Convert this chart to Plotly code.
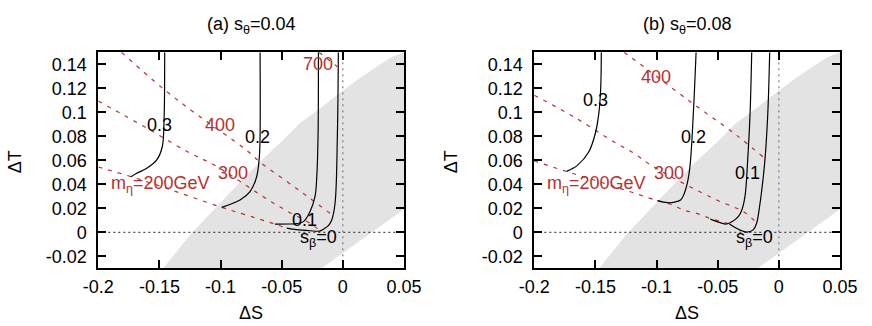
import plotly.graph_objects as go

# axis ticks
x_ticks = [-0.2, -0.15, -0.1, -0.05, 0, 0.05]
x_ticktext = ["-0.2", "-0.15", "-0.1", "-0.05", "0", "0.05"]
y_ticks = [-0.02, 0, 0.02, 0.04, 0.06, 0.08, 0.1, 0.12, 0.14]
y_ticktext = ["-0.02", "0", "0.02", "0.04", "0.06", "0.08", "0.1", "0.12", "0.14"]

# allowed S-T region (gray), same in both panels
band_x = [-0.147, -0.135, -0.124, -0.11, -0.095, -0.08, -0.065, -0.05, -0.035,
          -0.02, -0.005, 0.01, 0.025, 0.04, 0.05, 0.05, 0.0164, -0.0173]
band_y = [-0.03, -0.0152, -0.001, 0.014, 0.0305, 0.0463, 0.0614, 0.0757, 0.091,
          0.1021, 0.1142, 0.1256, 0.1362, 0.1461, 0.15, 0.0192, -0.0054, -0.03]

# ---- (a) s_theta = 0.04 ----
# s_beta contours (black)
a_sb03_x = [-0.1457, -0.1458, -0.1462, -0.1477, -0.1522, -0.1604, -0.1689, -0.1732]
a_sb03_y = [0.15, 0.12, 0.095, 0.0713, 0.0603, 0.0533, 0.0490, 0.0463]
a_sb02_x = [-0.0677, -0.0677, -0.0683, -0.0705, -0.0759, -0.0841, -0.0991]
a_sb02_y = [0.15, 0.08, 0.063, 0.0463, 0.0339, 0.0269, 0.0208]
a_sb01_x = [-0.0200, -0.0203, -0.0214, -0.0228, -0.0269, -0.0323, -0.0380, -0.0432, -0.0555]
a_sb01_y = [0.15, 0.08, 0.045, 0.0297, 0.0172, 0.0089, 0.0072, 0.0069, 0.0068]
a_sb00_x = [-0.0037, -0.0045, -0.0064, -0.0091, -0.0119, -0.0160, -0.0190, -0.0269, -0.0380, -0.0459]
a_sb00_y = [0.15, 0.08, 0.024, 0.0103, 0.0055, 0.0025, 0.0010, 0.0013, 0.0022, 0.0035]
# m_eta contours (red dashed)
a_m200_x = [-0.2, -0.173, -0.1495, -0.0991, -0.0705, -0.0555, -0.0459]
a_m200_y = [0.0544, 0.0463, 0.0385, 0.0208, 0.0117, 0.0068, 0.0035]
a_m300_x = [-0.2, -0.1594, -0.1266, -0.1048, -0.061, -0.0446, -0.0269, -0.0190]
a_m300_y = [0.1094, 0.0863, 0.0669, 0.0558, 0.027, 0.0172, 0.0075, 0.0015]
a_m400_x = [-0.181, -0.1485, -0.1185, -0.0803, -0.0664, -0.0418, -0.0269, -0.0105]
a_m400_y = [0.15, 0.121, 0.0975, 0.0697, 0.0575, 0.0394, 0.0283, 0.0158]
a_m700_x = [-0.0195, -0.0045]
a_m700_y = [0.15, 0.138]

# ---- (b) s_theta = 0.08 ----
b_sb03_x = [-0.1452, -0.1457, -0.1471, -0.1498, -0.1555, -0.1648, -0.1735]
b_sb03_y = [0.15, 0.12, 0.1003, 0.0836, 0.0669, 0.0558, 0.0508]
b_sb02_x = [-0.0677, -0.0699, -0.0726, -0.0749, -0.0775, -0.0803, -0.0860, -0.0912, -0.0994]
b_sb02_y = [0.15, 0.10, 0.0558, 0.0408, 0.032, 0.0269, 0.0250, 0.0247, 0.0264]
b_sb01_x = [-0.0222, -0.0235, -0.0255, -0.0277, -0.0305, -0.0332, -0.0380, -0.0427, -0.0480, -0.0560]
b_sb01_y = [0.15, 0.10, 0.06, 0.030, 0.018, 0.013, 0.009, 0.0069, 0.0080, 0.0110]
b_sb00_x = [-0.0075, -0.0090, -0.0113, -0.0140, -0.0160, -0.0182, -0.0210, -0.0263, -0.0320, -0.0405]
b_sb00_y = [0.15, 0.10, 0.0614, 0.035, 0.020, 0.0075, 0.0020, 0.0002, 0.0020, 0.0069]
b_m200_x = [-0.2, -0.173, -0.1325, -0.0994, -0.0869, -0.0781, -0.0672, -0.0560, -0.0468, -0.0405]
b_m200_y = [0.0594, 0.0505, 0.0375, 0.0264, 0.0228, 0.0186, 0.0158, 0.0115, 0.0089, 0.0069]
b_m300_x = [-0.2, -0.1675, -0.1348, -0.1185, -0.1048, -0.0781, -0.0508, -0.0291, -0.0182]
b_m300_y = [0.1142, 0.0961, 0.0753, 0.0658, 0.0561, 0.0408, 0.0269, 0.0172, 0.0080]
b_m400_x = [-0.1266, -0.1103, -0.0721, -0.0345, -0.0113]
b_m400_y = [0.15, 0.1378, 0.1086, 0.0808, 0.0614]

# contour labels: text, x, y
a_black_labels = [("0.3", -0.1503, 0.0894), ("0.2", -0.0700, 0.0797),
                  ("0.1", -0.0317, 0.0103), ("s<sub>β</sub>=0", -0.0201, -0.0050)]
a_red_labels = [("m<sub>η</sub>=200GeV", -0.1495, 0.0395), ("300", -0.0901, 0.0497),
                ("400", -0.1005, 0.0894), ("700", -0.0200, 0.1400)]
b_black_labels = [("0.3", -0.1503, 0.1103), ("0.2", -0.0700, 0.0797),
                  ("0.1", -0.0255, 0.0497), ("s<sub>β</sub>=0", -0.0201, -0.0050)]
b_red_labels = [("m<sub>η</sub>=200GeV", -0.1495, 0.0395), ("300", -0.0901, 0.0497),
                ("400", -0.1005, 0.1297)]

titles = ["(a) s<sub>θ</sub>=0.04", "(b) s<sub>θ</sub>=0.08"]

RED = "#b8312f"
FONT = "Liberation Sans, Arial, sans-serif"
FS = 18

panels = [
    dict(sb=[(a_sb03_x, a_sb03_y), (a_sb02_x, a_sb02_y), (a_sb01_x, a_sb01_y), (a_sb00_x, a_sb00_y)],
         m=[(a_m200_x, a_m200_y), (a_m300_x, a_m300_y), (a_m400_x, a_m400_y), (a_m700_x, a_m700_y)],
         black=a_black_labels, red=a_red_labels),
    dict(sb=[(b_sb03_x, b_sb03_y), (b_sb02_x, b_sb02_y), (b_sb01_x, b_sb01_y), (b_sb00_x, b_sb00_y)],
         m=[(b_m200_x, b_m200_y), (b_m300_x, b_m300_y), (b_m400_x, b_m400_y)],
         black=b_black_labels, red=b_red_labels),
]

W, H = 872, 326
x_dom_px = [(98.3, 404.0), (534.3, 840.0)]
y_dom = [1 - 268.3 / H, 1 - 52.3 / H]

fig = go.Figure()
annotations = []


def label(text, x, y, xref, yref, color="black", angle=0):
    return dict(text=text, x=x, y=y, xref=xref, yref=yref, showarrow=False,
                xanchor="center", yanchor="middle", textangle=angle,
                font=dict(size=FS, color=color, family=FONT))


for i, p in enumerate(panels):
    xa = "x" if i == 0 else "x2"
    ya = "y" if i == 0 else "y2"

    fig.add_trace(go.Scatter(x=band_x, y=band_y, mode="lines", fill="toself",
                             fillcolor="#e3e3e3", line=dict(width=0),
                             xaxis=xa, yaxis=ya, showlegend=False, hoverinfo="skip"))
    # zero lines
    fig.add_trace(go.Scatter(x=[x_ticks[0], x_ticks[-1]], y=[0, 0], mode="lines",
                             line=dict(color="#222", width=1, dash="2px,3px"),
                             xaxis=xa, yaxis=ya, showlegend=False, hoverinfo="skip"))
    fig.add_trace(go.Scatter(x=[0, 0], y=[-0.03, 0.15], mode="lines",
                             line=dict(color="#666", width=1, dash="2px,4px"),
                             xaxis=xa, yaxis=ya, showlegend=False, hoverinfo="skip"))
    for mx, my in p["m"]:
        fig.add_trace(go.Scatter(x=mx, y=my, mode="lines", line_shape="spline",
                                 line=dict(color=RED, width=1.2, dash="4px,6px"),
                                 xaxis=xa, yaxis=ya, showlegend=False))
    for sx, sy in p["sb"]:
        fig.add_trace(go.Scatter(x=sx, y=sy, mode="lines", line_shape="spline",
                                 line=dict(color="black", width=1.2),
                                 xaxis=xa, yaxis=ya, showlegend=False))

    for txt, lx, ly in p["black"]:
        annotations.append(label(txt, lx, ly, xa, ya))
    for txt, lx, ly in p["red"]:
        annotations.append(label(txt, lx, ly, xa, ya, color=RED))

    x0, x1 = x_dom_px[i]
    xc = (x0 + x1) / 2 / W
    annotations.append(label(titles[i], xc, 1 - 25 / H, "paper", "paper"))
    annotations.append(label("ΔS", xc, 1 - 313 / H, "paper", "paper"))
    annotations.append(label("ΔT", (x0 - 83) / W, 1 - 162 / H, "paper", "paper", angle=-90))

    axis_common = dict(showgrid=False, zeroline=False, showline=True, linecolor="black",
                       linewidth=2, mirror="ticks", ticks="inside", ticklen=8, tickwidth=1.5,
                       tickcolor="black", tickfont=dict(size=FS, color="black", family=FONT),
                       automargin=False)
    fig.update_layout(**{
        ("xaxis" if i == 0 else "xaxis2"): dict(
            domain=[x0 / W, x1 / W], range=[-0.2, 0.05], tickvals=x_ticks, ticktext=x_ticktext,
            anchor=ya, ticklabelstandoff=1, **axis_common),
        ("yaxis" if i == 0 else "yaxis2"): dict(
            domain=y_dom, range=[-0.03, 0.15], tickvals=y_ticks, ticktext=y_ticktext,
            anchor=xa, ticklabelstandoff=6, **axis_common),
    })

fig.update_layout(template="none", width=W, height=H, margin=dict(l=0, r=0, t=0, b=0, pad=0),
                  paper_bgcolor="white", plot_bgcolor="white",
                  font=dict(family=FONT, size=FS, color="black"),
                  annotations=annotations, showlegend=False)

fig.write_html("out.html", config={"displayModeBar": False},
               post_script="document.body.style.margin='0';")
